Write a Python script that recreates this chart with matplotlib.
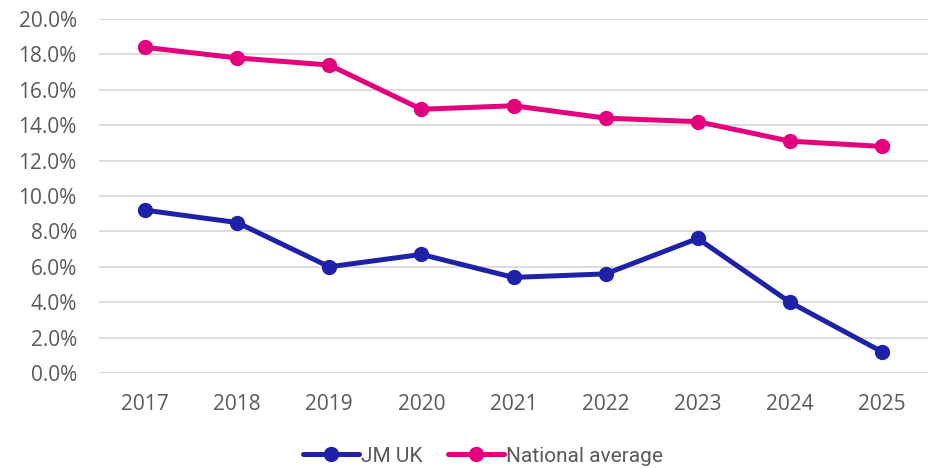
import matplotlib
matplotlib.use("Agg")
import matplotlib.pyplot as plt
from matplotlib.ticker import FuncFormatter, MultipleLocator

years = ["2017", "2018", "2019", "2020", "2021", "2022", "2023", "2024", "2025"]
jm_uk = [9.2, 8.5, 6.0, 6.7, 5.4, 5.6, 7.6, 4.0, 1.2]
national = [18.4, 17.8, 17.4, 14.9, 15.1, 14.4, 14.2, 13.1, 12.8]

plt.rcParams['font.family'] = ['Open Sans', 'DejaVu Sans']

fig = plt.figure(figsize=(9.32, 4.68), dpi=100)
ax = fig.add_axes([99/932, 1-373/468, (928-99)/932, (373-19)/468])

x = list(range(len(years)))
ax.plot(x, jm_uk, color="#1F22A8", lw=3.6, marker="o", ms=10, label="JM UK", solid_capstyle="round")
ax.plot(x, national, color="#E4007C", lw=3.6, marker="o", ms=10, label="National average", solid_capstyle="round")

ax.set_xlim(-0.5, len(years) - 0.5)
ax.set_ylim(0, 20)
ax.yaxis.set_major_locator(MultipleLocator(2))
ax.yaxis.set_major_formatter(FuncFormatter(lambda v, p: f"{v:.1f}%"))
ax.set_xticks(x)
ax.set_xticklabels(years)
ax.grid(axis="y", color="#D9D9D9", lw=1.3)
ax.set_axisbelow(True)
for s in ax.spines.values():
    s.set_visible(False)
ax.tick_params(length=0, labelsize=15, colors="#595959")
ax.tick_params(axis="x", pad=15)
ax.tick_params(axis="y", pad=16)
for lbl in ax.get_yticklabels():
    lbl.set_horizontalalignment("right")

leg = fig.legend(loc="lower center", bbox_to_anchor=(0.518, -0.035), ncol=2, frameon=False,
                 prop={"family": ["Roboto", "DejaVu Sans"], "size": 15},
                 handlelength=2.7, handletextpad=0.1, columnspacing=1.2)
for t in leg.get_texts():
    t.set_color("#595959")

fig.savefig("out.png", dpi=100)
